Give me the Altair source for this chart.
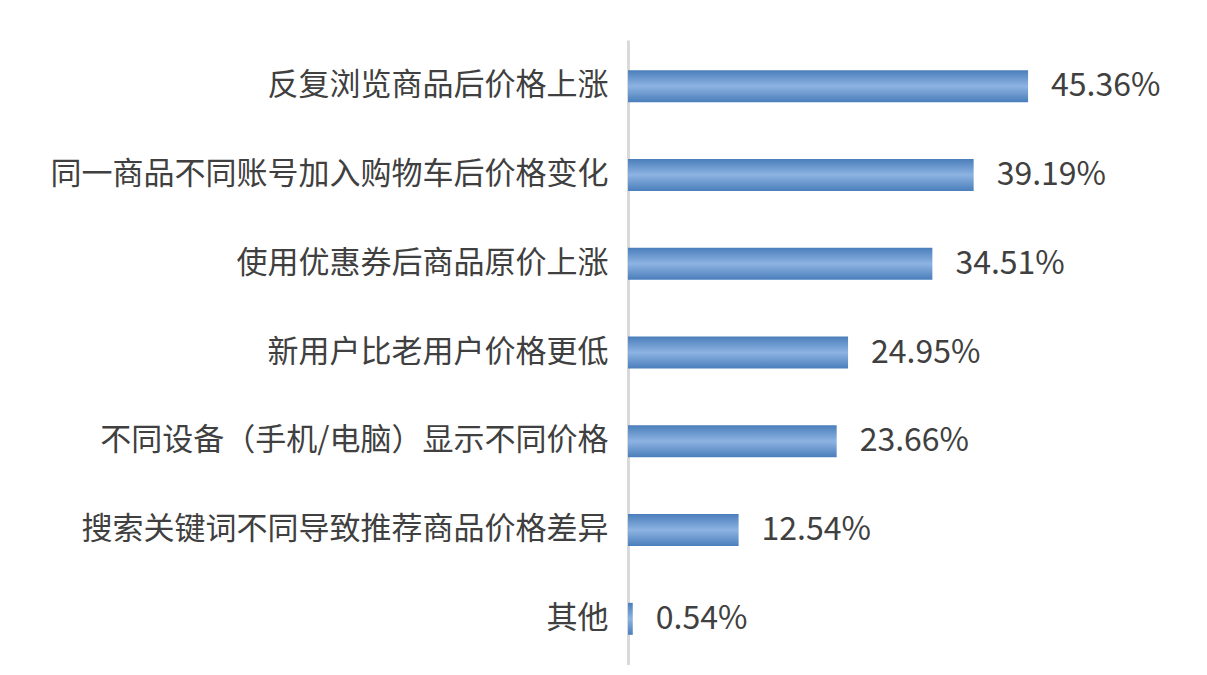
import altair as alt
import pandas as pd

categories = ["反复浏览商品后价格上涨", "同一商品不同账号加入购物车后价格变化", "使用优惠券后商品原价上涨",
              "新用户比老用户价格更低", "不同设备（手机/电脑）显示不同价格", "搜索关键词不同导致推荐商品价格差异", "其他"]
values = [45.36, 39.19, 34.51, 24.95, 23.66, 12.54, 0.54]
labels = ["45.36%", "39.19%", "34.51%", "24.95%", "23.66%", "12.54%", "0.54%"]

df = pd.DataFrame({"cat": categories, "val": values, "lab": labels})

FONT = "Noto Sans CJK SC"

y = alt.Y("cat:N", sort=categories, title=None,
          scale=alt.Scale(paddingInner=0.64, paddingOuter=0.34),
          axis=alt.Axis(labelFont=FONT, labelFontSize=31, labelColor="#404040",
                        labelPadding=20, labelLimit=1000, ticks=False,
                        domainColor="#d9d9d9", domainWidth=3, grid=False))
x = alt.X("val:Q", scale=alt.Scale(domain=[0, 50]), axis=None)

grad = alt.Gradient(gradient="linear", x1=0, x2=0, y1=0, y2=1,
                    stops=[alt.GradientStop(color="#4a7ebb", offset=0),
                           alt.GradientStop(color="#8db3e2", offset=0.5),
                           alt.GradientStop(color="#4a7ebb", offset=1)])

bars = alt.Chart(df).mark_bar(color=grad).encode(y=y, x=x)
text = alt.Chart(df).mark_text(align="left", dx=23, font=FONT, fontSize=32, color="#404040").encode(
    y=alt.Y("cat:N", sort=categories), x="val:Q", text="lab:N")

chart = (bars + text).properties(
    width=441, height=625,
    background="white",
    autosize=alt.AutoSizeParams(type="none"),
    padding={"left": 620, "top": 32, "right": 130, "bottom": 0},
).configure_view(stroke=None, strokeWidth=0)

chart.save("out.html", embed_options={"renderer": "svg", "actions": False})
